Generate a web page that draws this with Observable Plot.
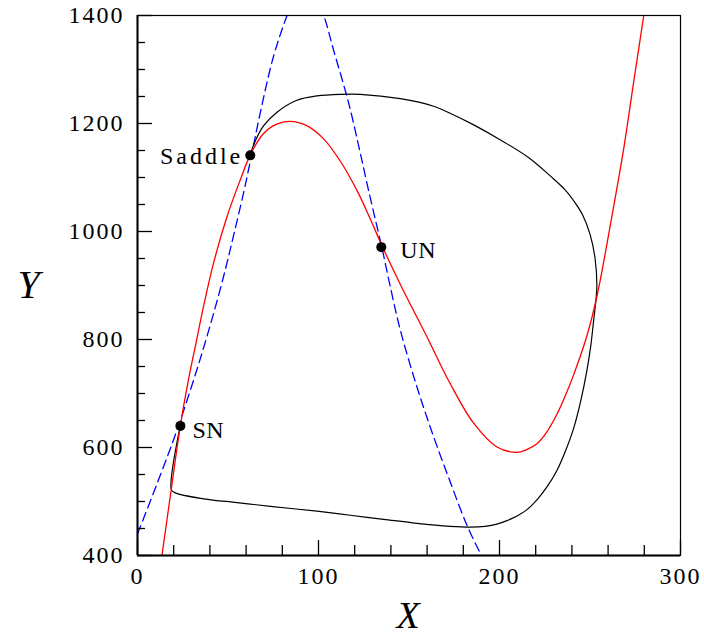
<!DOCTYPE html>
<html><head><meta charset="utf-8">
<script src="https://cdn.jsdelivr.net/npm/d3@7"></script>
<script src="https://cdn.jsdelivr.net/npm/@observablehq/plot@0.6"></script>
<style>
body{margin:0;background:#fff}
svg text{letter-spacing:2px}
svg text.axlab{letter-spacing:0}
svg g.wide text{letter-spacing:3px}
svg g.narrow text{letter-spacing:0.5px}
</style>
</head><body><div id="chart"></div>
<script>
// Red nullcline
const redX = [13.5,18.7,23.7,28,32.3,36.4,41.9,49.3,56.6,62.2,69.5,76.9,84.3,93.5,102.7,111.9,121.1,128.5,134.9,145.5,159.9,172.8,185.7,198.6,209.7,215,220.7,226,231.8,236.5,241,248.3,253.9,262.2,268.6,274.1,279.7];
const redY = [400,524,641,723,793,860,940,1026,1094,1141,1181,1199,1204,1196,1172,1131,1077,1024,975,900,805,718,645,601,591,596,607,628,662,697,735,807,881,1030,1153,1276,1400];
// Black orbit
const blackX = [23.7,18.7,20.9,36.6,55,73.4,99.2,117.6,136,154.4,172.8,183.9,192,198.6,204.1,209.7,215.2,220.7,226.2,231.8,236.5,241,244.8,248.3,250.5,252,253.2,253.8,252.8,250,246,242,236,228,216,200.3,186,172.7,163.6,145.2,123.1,112,99.2,88.1,77.1,69.7,63.3,62.3];
const blackY = [641,522,516,505,498,491,482,474.5,467,459.5,454,452.5,454,458,464.5,473,485,503,527,558,594,636,685,743,790,835,870,900,950,995,1030,1052,1078,1103,1137,1170,1197,1219,1232,1246,1254,1254,1251,1243,1221,1196,1153,1141];
// Blue dashed nullcline
const blueX = [0,10.8,21.8,32.9,39.1,44.5,49.3,53.1,58.5,62.2,67.7,75.2,82.6,87,92.5,98,102.9,108.4,116.5,123.1,126.6,130.5,134.9,139.2,145,154.4,163.6,172.8,182,190];
const blueY = [440,533,632,745,814,878,940,993,1070,1128,1218,1325,1400,1437,1455,1437,1400,1335,1240,1145,1092,1035,972,905,820,712,620,536,456,400];
// Equilibria
const pointNames = ["Saddle","SN","UN"];
const pointX = [62.3,23.7,134.7];
const pointY = [1141,640,971];
// Ticks
const xMajor = [0,100,200,300];
const xMinor = [20,40,60,80,120,140,160,180,220,240,260,280];
const yMajor = [400,600,800,1000,1200,1400];
const yMinor = [450,500,550,650,700,750,850,900,950,1050,1100,1150,1250,1300,1350];

const zip = (xs, ys) => xs.map((x, i) => ({x, y: ys[i]}));
const red = zip(redX, redY);
const black = zip(blackX, blackY);
const blue = zip(blueX, blueY);
const pts = pointNames.map((name, i) => ({name, x: pointX[i], y: pointY[i]}));

const font = "Liberation Serif";
const fmt = d3.format("d");
const chart = Plot.plot({
  width: 704, height: 640,
  marginLeft: 137, marginRight: 24, marginTop: 15, marginBottom: 85,
  style: {fontFamily: font, background: "white", color: "black"},
  x: {domain: [0, 300]},
  y: {domain: [400, 1400]},
  marks: [
    Plot.line(blue, {x: "x", y: "y", stroke: "#0000ff", strokeWidth: 1.3, strokeDasharray: "9,5", curve: "catmull-rom", clip: true}),
    Plot.line(black, {x: "x", y: "y", stroke: "#000", strokeWidth: 1.2, curve: "catmull-rom", clip: true}),
    Plot.line(red, {x: "x", y: "y", stroke: "#ff0000", strokeWidth: 1.3, curve: "catmull-rom", clip: true}),
    Plot.dot(pts, {x: "x", y: "y", r: 5, fill: "black", stroke: null}),
    Plot.text(pts.filter(d => d.name === "Saddle"), {x: "x", y: "y", text: "name", textAnchor: "end", dx: -7, dy: 1, fontSize: 24, fill: "black", className: "wide"}),
    Plot.text(pts.filter(d => d.name === "SN"), {x: "x", y: "y", text: "name", textAnchor: "start", dx: 12, dy: 4, fontSize: 24, fill: "black", className: "narrow"}),
    Plot.text(pts.filter(d => d.name === "UN"), {x: "x", y: "y", text: "name", textAnchor: "start", dx: 19, dy: 3, fontSize: 24, fill: "black", className: "narrow"}),
    Plot.frame({stroke: "black", strokeWidth: 1.2}),
    Plot.ruleX([0], {stroke: "black", strokeWidth: 2}),
    Plot.ruleY([400], {stroke: "black", strokeWidth: 2}),
    Plot.axisY({ticks: yMajor, tickSize: -15, tickPadding: 28, fontSize: 24, label: null, tickFormat: fmt, strokeWidth: 1.3}),
    Plot.axisY({ticks: yMinor, tickSize: -8, tickFormat: () => "", label: null, strokeWidth: 1.3}),
    Plot.axisX({ticks: xMajor, tickSize: -15, tickPadding: 26, fontSize: 24, label: null, tickFormat: fmt, strokeWidth: 1.3}),
    Plot.axisX({ticks: xMinor, tickSize: -10, tickFormat: () => "", label: null, strokeWidth: 1.3}),
    Plot.text(["X"], {frameAnchor: "bottom", dy: 72, fontStyle: "italic", fontSize: 38, fill: "black", className: "axlab"}),
    Plot.text(["Y"], {frameAnchor: "left", dx: -120, fontStyle: "italic", fontSize: 40, fill: "black", className: "axlab"})
  ]
});
document.getElementById("chart").appendChild(chart);
</script>
</body></html>
